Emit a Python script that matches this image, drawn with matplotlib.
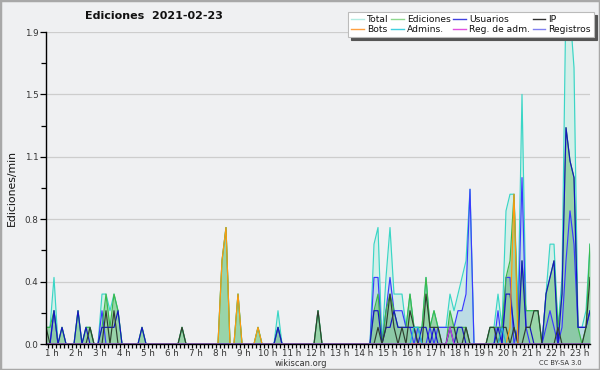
import matplotlib
matplotlib.use("Agg")
import matplotlib.pyplot as plt
from matplotlib.lines import Line2D
from matplotlib.patches import Rectangle
from matplotlib.ticker import MultipleLocator, FixedLocator
import numpy as np

# ---- data: 10-minute bins, edits per minute ----
start_hour = 0.75
bin_hours = 1 / 6

total = [0.1, 0.1, 0.4, 0, 0.1, 0, 0, 0, 0.2, 0, 0.1, 0.1, 0, 0, 0.3, 0.3, 0.2, 0.3, 0.2, 0,
         0, 0, 0, 0, 0.1, 0, 0, 0, 0, 0, 0, 0, 0, 0, 0.1, 0, 0, 0, 0, 0,
         0, 0, 0, 0, 0.5, 0.7, 0, 0, 0.3, 0, 0, 0, 0, 0.1, 0, 0, 0, 0, 0.2, 0,
         0, 0, 0, 0, 0, 0, 0, 0, 0.2, 0, 0, 0, 0, 0, 0, 0, 0, 0, 0, 0,
         0, 0, 0.6, 0.7, 0, 0.4, 0.7, 0.3, 0.3, 0.3, 0.1, 0.3, 0.1, 0.1, 0.1, 0.4, 0.1, 0.2, 0.1, 0.1, 0.1,
         0.3, 0.2, 0.3, 0.4, 0.5, 0.93, 0, 0, 0, 0, 0.1, 0.1, 0.3, 0.1, 0.8, 0.9, 0.9, 0.2, 1.5, 0.2,
         0.2, 0.2, 0.2, 0, 0.3, 0.6, 0.6, 0.1, 0.4, 2.1, 2.0, 1.66, 0.1, 0.1, 0.2, 0.6]
ediciones = [0.1, 0.1, 0.2, 0, 0.1, 0, 0, 0, 0.2, 0, 0.1, 0.1, 0, 0, 0.1, 0.3, 0.1, 0.3, 0.2, 0,
             0, 0, 0, 0, 0.1, 0, 0, 0, 0, 0, 0, 0, 0, 0, 0.1, 0, 0, 0, 0, 0,
             0, 0, 0, 0, 0.5, 0.7, 0, 0, 0.3, 0, 0, 0, 0, 0.1, 0, 0, 0, 0, 0.1, 0,
             0, 0, 0, 0, 0, 0, 0, 0, 0.2, 0, 0, 0, 0, 0, 0, 0, 0, 0, 0, 0,
             0, 0, 0.2, 0.3, 0, 0.2, 0.3, 0.2, 0.1, 0.1, 0.1, 0.3, 0.1, 0.1, 0.1, 0.4, 0.1, 0.2, 0.1, 0, 0,
             0.2, 0.1, 0.1, 0.1, 0.1, 0, 0, 0, 0, 0, 0.1, 0.1, 0.1, 0.1, 0.4, 0.5, 0.9, 0.1, 0.5, 0.2,
             0.2, 0.2, 0.2, 0, 0.3, 0.4, 0.5, 0.1, 0.3, 1.3, 1.1, 1.0, 0.1, 0, 0.1, 0.6]
usuarios = [0, 0, 0.2, 0, 0.1, 0, 0, 0, 0.2, 0, 0.1, 0, 0, 0, 0.1, 0.1, 0.1, 0.1, 0.2, 0,
            0, 0, 0, 0, 0.1, 0, 0, 0, 0, 0, 0, 0, 0, 0, 0, 0, 0, 0, 0, 0,
            0, 0, 0, 0, 0, 0, 0, 0, 0, 0, 0, 0, 0, 0, 0, 0, 0, 0, 0.1, 0,
            0, 0, 0, 0, 0, 0, 0, 0, 0, 0, 0, 0, 0, 0, 0, 0, 0, 0, 0, 0,
            0, 0, 0.2, 0.2, 0, 0.1, 0.1, 0.2, 0.1, 0.1, 0.1, 0.1, 0.1, 0, 0.1, 0.1, 0, 0.1, 0, 0, 0,
            0.1, 0, 0.1, 0.1, 0, 0, 0, 0, 0, 0, 0, 0, 0.1, 0, 0.3, 0.3, 0.1, 0, 0.5, 0.1,
            0.1, 0, 0, 0, 0.3, 0.4, 0.5, 0, 0.3, 1.3, 1.1, 1.0, 0.1, 0.1, 0.1, 0.2]
ip = [0.1, 0, 0, 0, 0, 0, 0, 0, 0, 0, 0, 0.1, 0, 0, 0, 0.2, 0, 0.2, 0, 0,
      0, 0, 0, 0, 0, 0, 0, 0, 0, 0, 0, 0, 0, 0, 0.1, 0, 0, 0, 0, 0,
      0, 0, 0, 0, 0, 0, 0, 0, 0, 0, 0, 0, 0, 0, 0, 0, 0, 0, 0, 0,
      0, 0, 0, 0, 0, 0, 0, 0, 0.2, 0, 0, 0, 0, 0, 0, 0, 0, 0, 0, 0,
      0, 0, 0, 0.1, 0, 0.1, 0.3, 0.1, 0, 0.1, 0, 0.2, 0.1, 0, 0, 0.3, 0.1, 0.1, 0.1, 0, 0,
      0.1, 0.1, 0, 0, 0.1, 0, 0, 0, 0, 0, 0.1, 0.1, 0, 0.1, 0.1, 0, 0.1, 0, 0, 0.1,
      0.1, 0.2, 0.2, 0, 0, 0, 0, 0.1, 0, 0, 0, 0, 0, 0, 0.1, 0.4]
registros = [0, 0, 0.2, 0, 0, 0, 0, 0, 0, 0, 0, 0, 0, 0, 0.2, 0, 0, 0, 0, 0,
             0, 0, 0, 0, 0, 0, 0, 0, 0, 0, 0, 0, 0, 0, 0, 0, 0, 0, 0, 0,
             0, 0, 0, 0, 0, 0, 0, 0, 0, 0, 0, 0, 0, 0, 0, 0, 0, 0, 0.1, 0,
             0, 0, 0, 0, 0, 0, 0, 0, 0, 0, 0, 0, 0, 0, 0, 0, 0, 0, 0, 0,
             0, 0, 0.4, 0.4, 0, 0.2, 0.4, 0.2, 0.2, 0.2, 0.1, 0.1, 0, 0.1, 0, 0, 0.1, 0, 0.1, 0.1, 0.1,
             0.1, 0.1, 0.2, 0.2, 0.3, 0.93, 0, 0, 0, 0, 0, 0, 0.2, 0, 0.4, 0.4, 0, 0.1, 1.0, 0.1,
             0, 0, 0, 0, 0.1, 0.2, 0.1, 0, 0.1, 0.5, 0.8, 0.6, 0.1, 0.1, 0.1, 0.2]
bots = [0] * 44 + [0.5, 0.7, 0, 0, 0.3, 0, 0, 0, 0, 0.1] + [0] * 62 + [0.1, 0.9] + [0] * 19
admins = [0] * 92 + [0.1, 0.1] + [0] * 20 + [0.1] + [0] * 22
reg_adm = [0] * 101 + [0.1] + [0] * 35

hour_labels = [f"{h} h" for h in range(1, 24)]
y_ticks = [0, 0.375, 0.75, 1.125, 1.5, 1.875]
y_labels = ["0.0", "0.4", "0.8", "1.1", "1.5", "1.9"]

n = len(total)
t = start_hour + np.arange(n) * bin_hours

bg = "#eff0f2"
fig = plt.figure(figsize=(6.0, 3.7), dpi=100, facecolor=bg)
ax = fig.add_axes([46 / 600, 1 - 344 / 370, 544 / 600, 312 / 370])
ax.set_facecolor(bg)

lw = 0.85
ax.fill_between(t, 0, total, color="#c9efe6", alpha=0.7, lw=0, zorder=1)
ax.fill_between(t, 0, registros, color="#a9cde2", alpha=0.55, lw=0, zorder=2)
ax.fill_between(t, 0, ediciones, color="#52b45c", alpha=0.45, lw=0, zorder=3)
ax.plot(t, total, color="#3ad6c6", lw=lw, zorder=4)
ax.plot(t, registros, color="#3a3aff", lw=lw, zorder=5)
ax.plot(t, ediciones, color="#3cb84a", lw=lw, zorder=6)
ax.plot(t, usuarios, color="#1515c0", lw=lw, zorder=7)
ax.plot(t, ip, color="#2f3f2f", lw=lw, zorder=8)
ax.plot(t, bots, color="#ff9a10", lw=lw, zorder=9)
ax.plot(t, admins, color="#22bcd8", lw=lw, zorder=9)
ax.plot(t, reg_adm, color="#c040e0", lw=lw, zorder=9)

ax.set_xlim(t[0], t[-1])
ax.set_ylim(0, 1.875)

ax.yaxis.set_major_locator(FixedLocator(y_ticks))
ax.set_yticklabels(y_labels)
ax.yaxis.set_minor_locator(MultipleLocator(0.1875))
ax.xaxis.set_major_locator(FixedLocator(list(range(1, 24))))
ax.set_xticklabels(hour_labels)
ax.xaxis.set_minor_locator(MultipleLocator(1 / 6))

ax.tick_params(axis="both", which="major", direction="out", length=4.5, width=0.9,
               colors="black", labelcolor="#333333", labelsize=6.3, pad=1)
ax.tick_params(axis="both", which="minor", direction="out", length=3.5, width=0.9, colors="black")
ax.tick_params(axis="x", which="major", length=3.0, pad=0.5)
ax.tick_params(axis="x", which="minor", length=3.0)

for s in ["top", "right"]:
    ax.spines[s].set_visible(False)
for s in ["left", "bottom"]:
    ax.spines[s].set_color("black")
    ax.spines[s].set_linewidth(1.0)
    ax.spines[s].set_zorder(20)

for yv in y_ticks[1:]:
    ax.axhline(yv, color="#cdcdcd", lw=0.9, zorder=0.5)

fig.text(154 / 600, 1 - 16 / 370, "Ediciones  2021-02-23", ha="center", va="center",
         fontsize=8.0, fontweight="bold", color="#111111")
fig.text(12 / 600, 1 - 188 / 370, "Ediciones/min", rotation=90, ha="center", va="center",
         fontsize=7.8, color="#111111")
fig.text(301 / 600, 1 - 363 / 370, "wikiscan.org", ha="center", va="center",
         fontsize=6.0, color="#333333")
fig.text(560 / 600, 1 - 363 / 370, "CC BY-SA 3.0", ha="center", va="center",
         fontsize=4.8, color="#333333")

leg_names = ["Total", "Bots", "Ediciones", "Admins.", "Usuarios", "Reg. de adm.", "IP", "Registros"]
leg_colors = ["#b2ece2", "#ffa040", "#8ed88e", "#40d0e0", "#4040e0", "#e050e0", "#303030", "#8080f0"]
handles = [Line2D([], [], color=c, lw=1.0) for c in leg_colors]
leg = fig.legend(handles, leg_names, ncol=4, loc="upper right",
                 bbox_to_anchor=(594 / 600, 1 - 12 / 370), fontsize=6.6,
                 handlelength=1.35, handletextpad=0.35, columnspacing=0.3,
                 labelspacing=0.1, borderpad=0.35, borderaxespad=0.0, frameon=True, fancybox=False,
                 shadow={"color": "#555555", "alpha": 1.0}, framealpha=1.0,
                 edgecolor="#bbbbbb", facecolor="white")
leg.get_frame().set_linewidth(0.8)
for tx in leg.get_texts():
    tx.set_color("#111111")

fig.add_artist(Rectangle((0, 0), 1, 1, transform=fig.transFigure, fill=False,
                         edgecolor="#a8a8a8", lw=2.5, zorder=30))

fig.savefig("out.png", dpi=100, facecolor=bg)
